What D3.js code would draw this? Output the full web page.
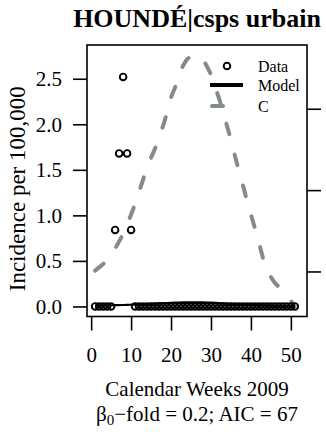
<!DOCTYPE html>
<html><head><meta charset="utf-8">
<script src="https://cdn.jsdelivr.net/npm/d3@7/dist/d3.min.js"></script>
<style>
body{margin:0;background:#fff}
svg{display:block}
text{font-family:"Liberation Serif","Times New Roman",serif;fill:#000}
</style>
</head><body>
<svg id="chart" width="326" height="432"></svg>
<script>
const weeks = [1,2,3,4,5,6,7,8,9,10,11,12,13,14,15,16,17,18,19,20,21,22,23,24,25,26,27,28,29,30,31,32,33,34,35,36,37,38,39,40,41,42,43,44,45,46,47,48,49,50,51];
const dataValues = [0,0,0,0,0,0.84,1.68,2.52,1.68,0.84,0,0,0,0,0,0,0,0,0,0,0,0,0,0,0,0,0,0,0,0,0,0,0,0,0,0,0,0,0,0,0,0,0,0,0,0,0,0,0,0,0];
const modelValues = [0.010,0.010,0.011,0.012,0.013,0.014,0.015,0.016,0.018,0.019,0.021,0.023,0.025,0.027,0.029,0.031,0.033,0.035,0.037,0.039,0.041,0.043,0.044,0.045,0.046,0.046,0.045,0.044,0.043,0.041,0.039,0.036,0.034,0.031,0.029,0.026,0.024,0.021,0.019,0.017,0.015,0.013,0.011,0.009,0.008,0.007,0.006,0.005,0.004,0.004,0.003];
const cValues = [1.01,1.05,1.09,1.14,1.21,1.28,1.37,1.46,1.58,1.70,1.83,1.98,2.13,2.28,2.40,2.51,2.65,2.79,2.95,3.14,3.26,3.41,3.53,3.61,3.64,3.66,3.64,3.61,3.52,3.42,3.27,3.13,2.97,2.79,2.62,2.42,2.24,2.06,1.87,1.70,1.53,1.35,1.17,1.05,0.93,0.86,0.81,0.75,0.69,0.64,0.57];
const xTicks = [0,10,20,30,40,50];
const yTicks = [0,0.5,1.0,1.5,2.0,2.5];
const cTicks = [1,2,3];
const yLimits = [0, 2.76];
const xLimits = [1, 52];
const titleText = "HOUNDÉ|csps urbain";
const xTitle = "Calendar Weeks 2009";
const yTitle = "Incidence per 100,000";
const legendLabels = ["Data","Model","C"];

const box = {left:87, right:307, top:45, bottom:316.5};
const expand = (lim) => { const r = lim[1]-lim[0]; return [lim[0]-0.04*r, lim[1]+0.04*r]; };

const x = d3.scaleLinear().domain(expand(xLimits)).range([box.left, box.right]);
const y = d3.scaleLinear().domain(expand(yLimits)).range([box.bottom, box.top]);
const cY = d3.scaleLinear().domain(expand(d3.extent(cValues))).range([box.bottom, box.top]);

const svg = d3.select("#chart");
const grey = "#838c8a";

// C dashed curve
const cLine = d3.line().x((d,i)=>x(weeks[i])).y(d=>cY(d)).curve(d3.curveLinear);
svg.append("path").datum(cValues).attr("d", cLine)
  .attr("fill","none").attr("stroke",grey).attr("stroke-width",4)
  .attr("stroke-dasharray","11,21").attr("stroke-linecap","round");

// model line
const mLine = d3.line().x((d,i)=>x(weeks[i])).y(d=>y(d));
svg.append("path").datum(modelValues).attr("d", mLine)
  .attr("fill","none").attr("stroke","#000").attr("stroke-width",2.2);

// data points
svg.append("g").selectAll("circle").data(dataValues).join("circle")
  .attr("cx",(d,i)=>x(weeks[i])).attr("cy",d=>y(d)).attr("r",3.3)
  .attr("fill","none").attr("stroke","#000").attr("stroke-width",1.9);

// box
svg.append("rect").attr("x",box.left).attr("y",box.top)
  .attr("width",box.right-box.left).attr("height",box.bottom-box.top)
  .attr("fill","none").attr("stroke","#000").attr("stroke-width",1.6);

// axes
const gx = svg.append("g").attr("transform",`translate(0,${box.bottom})`)
  .call(d3.axisBottom(x).tickValues(xTicks).tickSize(14).tickFormat(d3.format("d")));
gx.select(".domain").remove();
gx.selectAll("line").attr("stroke","#000").attr("stroke-width",1.6);
gx.selectAll("text").attr("y",45).attr("dy",null).style("font-size","21px");

const gy = svg.append("g").attr("transform",`translate(${box.left},0)`)
  .call(d3.axisLeft(y).tickValues(yTicks).tickSize(14).tickPadding(11).tickFormat(d3.format(".1f")));
gy.select(".domain").remove();
gy.selectAll("line").attr("stroke","#000").attr("stroke-width",1.6);
gy.selectAll("text").style("font-size","21px");

const gc = svg.append("g").attr("transform",`translate(${box.right},0)`)
  .call(d3.axisRight(cY).tickValues(cTicks).tickSize(14).tickFormat(""));
gc.select(".domain").remove();
gc.selectAll("line").attr("stroke","#000").attr("stroke-width",1.6);

svg.selectAll("g").attr("font-family",null);

// titles
svg.append("text").attr("x",(box.left+box.right)/2).attr("y",27).attr("text-anchor","middle")
  .style("font-size","26px").style("font-weight","bold").text(titleText);
svg.append("text").attr("x",(box.left+box.right)/2).attr("y",396).attr("text-anchor","middle")
  .style("font-size","21px").text(xTitle);
const sub = svg.append("text").attr("x",(box.left+box.right)/2).attr("y",421).attr("text-anchor","middle")
  .style("font-size","21px");
sub.append("tspan").text("β");
sub.append("tspan").attr("dy",4).style("font-size","15px").text("0");
sub.append("tspan").attr("dy",-4).text("−fold = 0.2; AIC = 67");
svg.append("text").attr("transform",`translate(25,${(box.top+box.bottom)/2 + 8}) rotate(-90)`)
  .attr("text-anchor","middle").style("font-size","23px").text(yTitle);

// legend
const lg = svg.append("g");
const lgY = [66, 85, 106];
lg.append("circle").attr("cx",227).attr("cy",lgY[0]).attr("r",3.3)
  .attr("fill","none").attr("stroke","#000").attr("stroke-width",1.9);
lg.append("line").attr("x1",210).attr("x2",243).attr("y1",lgY[1]).attr("y2",lgY[1])
  .attr("stroke","#000").attr("stroke-width",4);
lg.append("line").attr("x1",212).attr("x2",243).attr("y1",lgY[2]).attr("y2",lgY[2])
  .attr("stroke",grey).attr("stroke-width",4).attr("stroke-dasharray","11,21").attr("stroke-linecap","round");
lg.selectAll("text.lab").data(legendLabels).join("text").attr("class","lab")
  .attr("x",258).attr("y",(d,i)=>lgY[i]+6).style("font-size","16px").text(d=>d);
</script>
</body></html>
